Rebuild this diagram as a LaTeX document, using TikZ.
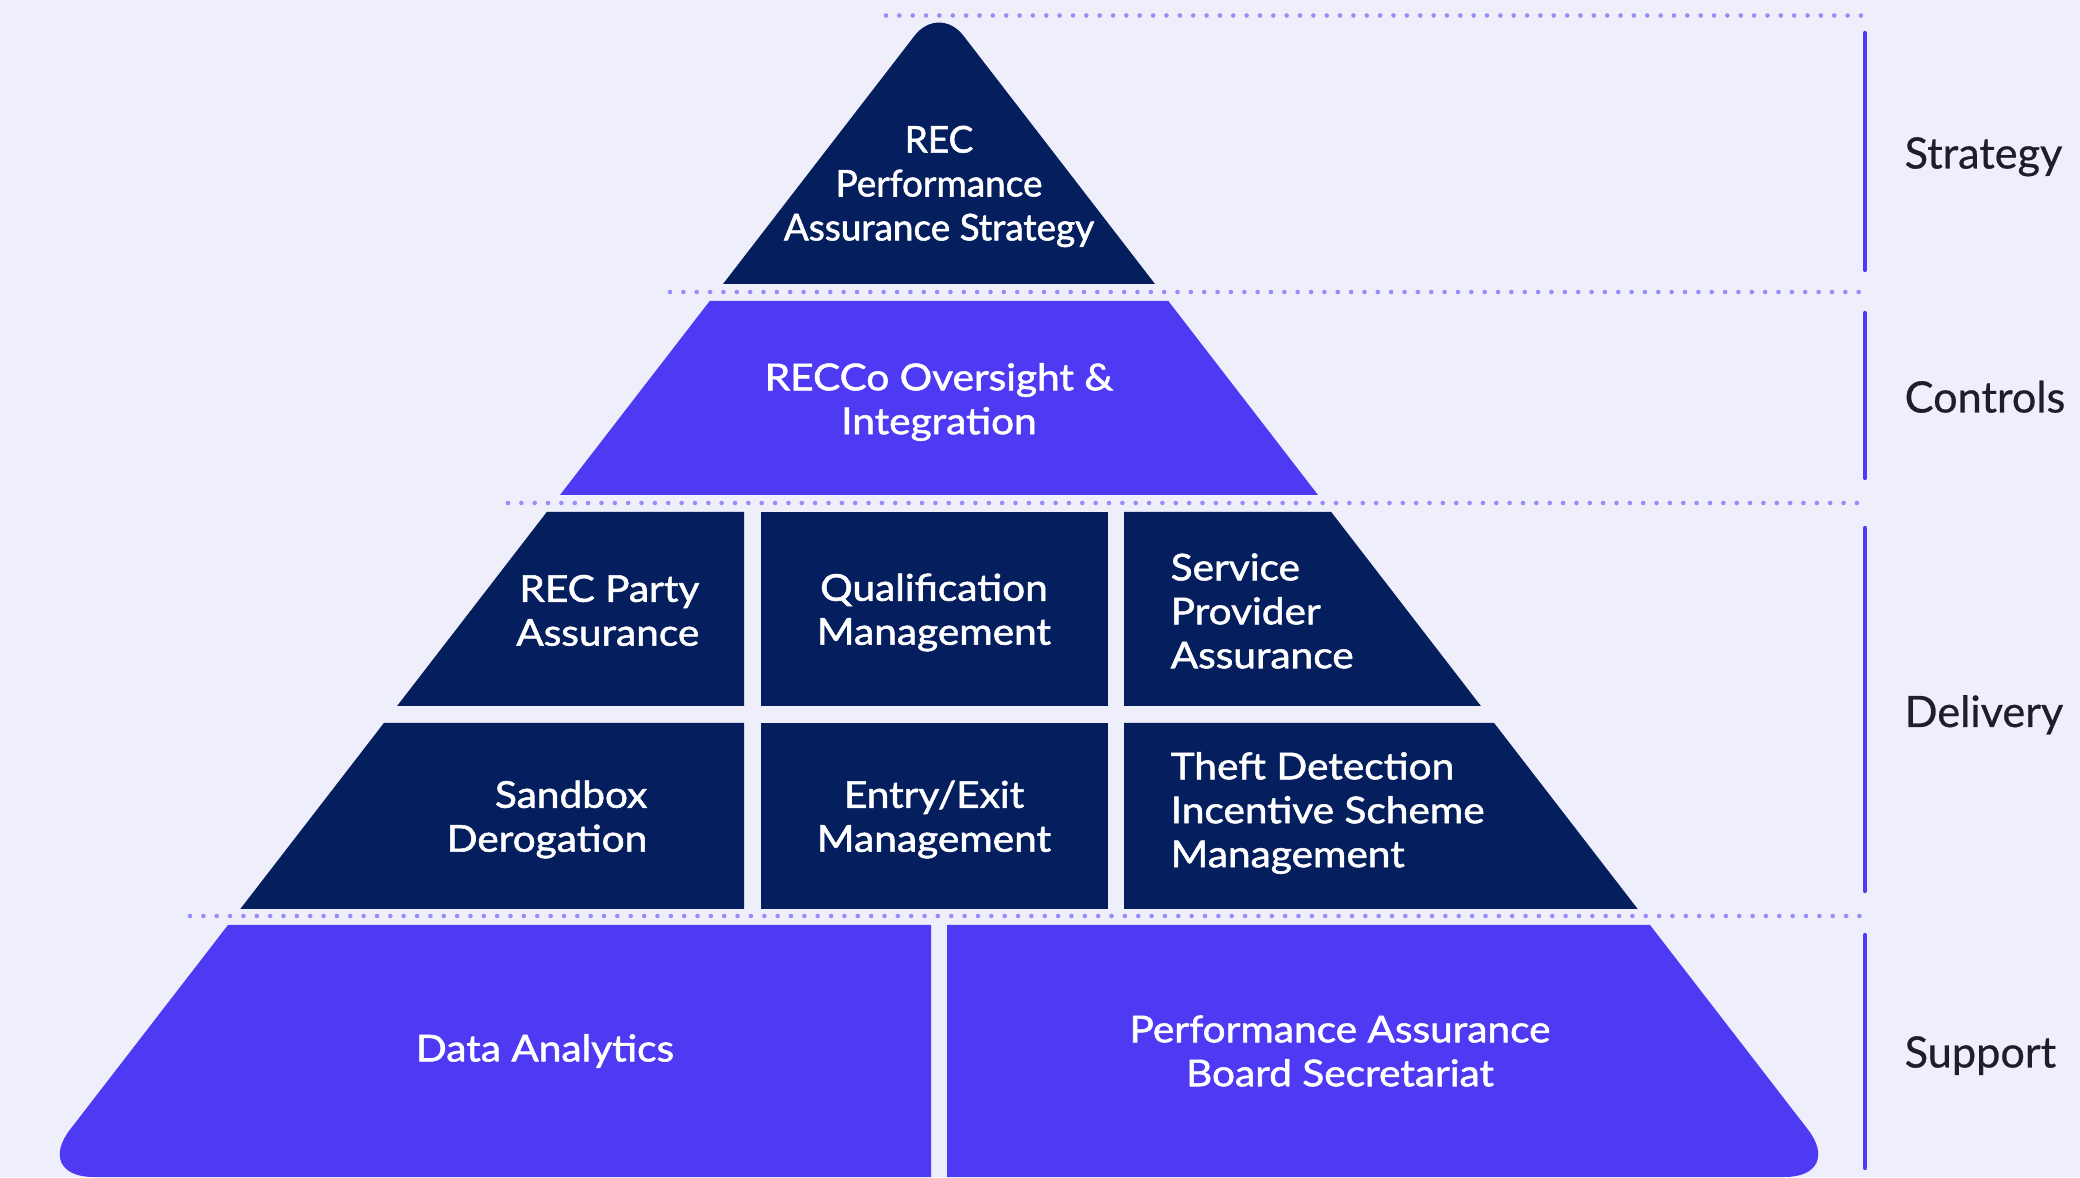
\documentclass[tikz,border=0pt]{standalone}
\usepackage{fontspec}
\setmainfont{Lato}
\newfontfamily\boxfont{Lato}[FakeBold=1.5, FakeStretch=1.1]
\newfontfamily\apexfont{Lato}[FakeBold=1.5]
\newfontfamily\tagfont{Lato}[FakeBold=0.6]
\usepackage{tikz}
\usetikzlibrary{positioning}
\definecolor{paper}{HTML}{EFEEFB}
\definecolor{tiernavy}{HTML}{041E5E}
\definecolor{tierpurple}{HTML}{4F3AF4}
\definecolor{dotlilac}{HTML}{9A8CF8}
\definecolor{inkdark}{HTML}{1E1E2A}

\begin{document}
\begin{tikzpicture}[
    boxtext/.style={text=white, inner sep=0pt, font=\boxfont\fontsize{10.5}{12.5}\selectfont},
    tiertag/.style={text=inkdark, inner sep=0pt, anchor=base west, font=\tagfont\fontsize{12.3}{14}\selectfont},
    dotrule/.style={dotlilac, line width=1.3pt, line cap=round, dash pattern=on 0pt off 3.8pt},
    tierbar/.style={tierpurple, line width=1.2pt, line cap=round}]
    \useasboundingbox (0,0) rectangle (20.80,11.77);
    \fill[paper] (0,0) rectangle (20.80,11.77);

    % Dotted separators
    \draw[dotrule] (8.86,11.615) -- (18.65,11.615);
    \draw[dotrule] (6.70,8.85) -- (18.65,8.85);
    \draw[dotrule] (5.08,6.74) -- (18.65,6.74);
    \draw[dotrule] (1.90,2.61) -- (18.65,2.61);

    % Strategy tier (rounded apex)
    \fill[tiernavy] (7.23,8.93) -- (9.146,11.413) .. controls (9.281,11.588) and (9.499,11.588) .. (9.634,11.413) -- (11.55,8.93) -- cycle;
    \node[boxtext, font=\apexfont\fontsize{10.5}{12.5}\selectfont, align=center] (strat) at (9.39,9.905) {REC\\Performance\\Assurance Strategy};

    % Controls tier
    \fill[tierpurple] (7.097,8.76) -- (11.683,8.76) -- (13.18,6.82) -- (5.60,6.82) -- cycle;
    \node[boxtext, align=center] (ctrl) at (9.39,7.75) {RECCo Oversight \&\\Integration};

    % Delivery tier, upper row
    \fill[tiernavy] (5.468,6.65) -- (7.44,6.65) -- (7.44,4.71) -- (3.971,4.71) -- cycle;
    \fill[tiernavy] (7.61,6.65) rectangle (11.08,4.71);
    \fill[tiernavy] (11.24,6.65) -- (13.312,6.65) -- (14.809,4.71) -- (11.24,4.71) -- cycle;
    \node[boxtext, align=right, anchor=east] (party) at (7.00,5.665) {REC Party\\Assurance};
    \node[boxtext, align=center] (qual) at (9.34,5.645) {Qualification\\Management};
    \node[boxtext, align=left, anchor=west] (service) at (11.70,5.66) {Service\\Provider\\Assurance};

    % Delivery tier, lower row
    \fill[tiernavy] (3.839,4.54) -- (7.44,4.54) -- (7.44,2.68) -- (2.403,2.68) -- cycle;
    \fill[tiernavy] (7.61,4.54) rectangle (11.08,2.68);
    \fill[tiernavy] (11.24,4.54) -- (14.941,4.54) -- (16.377,2.68) -- (11.24,2.68) -- cycle;
    \node[boxtext, align=right, anchor=east] (sandbox) at (6.48,3.575) {Sandbox\\Derogation};
    \node[boxtext, align=center] (entry) at (9.34,3.575) {Entry/Exit\\Management};
    \node[boxtext, align=left, anchor=west] (theft) at (11.70,3.64) {Theft Detection\\Incentive Scheme\\Management};

    % Support tier (rounded feet)
    \fill[tierpurple] (2.28,2.52) -- (9.31,2.52) -- (9.31,0) -- (0.934,0) .. controls (0.603,0) and (0.498,0.213) .. (0.701,0.475) -- cycle;
    \fill[tierpurple] (9.47,2.52) -- (16.50,2.52) -- (18.079,0.475) .. controls (18.282,0.213) and (18.177,0) .. (17.846,0) -- (9.47,0) -- cycle;
    \node[boxtext, align=center] (data) at (5.45,1.26) {Data Analytics};
    \node[boxtext, align=center] (board) at (13.40,1.26) {Performance Assurance\\Board Secretariat};

    % Tier bars and names
    \draw[tierbar] (18.65,11.44) -- (18.65,9.07);
    \draw[tierbar] (18.65,8.64) -- (18.65,6.99);
    \draw[tierbar] (18.65,6.49) -- (18.65,2.86);
    \draw[tierbar] (18.65,2.42) -- (18.65,0.09);
    \node[tiertag] (strategy) at (19.04,10.085) {Strategy};
    \node[tiertag] (controls) at (19.04,7.645) {Controls};
    \node[tiertag] (delivery) at (19.04,4.50) {Delivery};
    \node[tiertag] (support) at (19.04,1.095) {Support};
\end{tikzpicture}
\end{document}
